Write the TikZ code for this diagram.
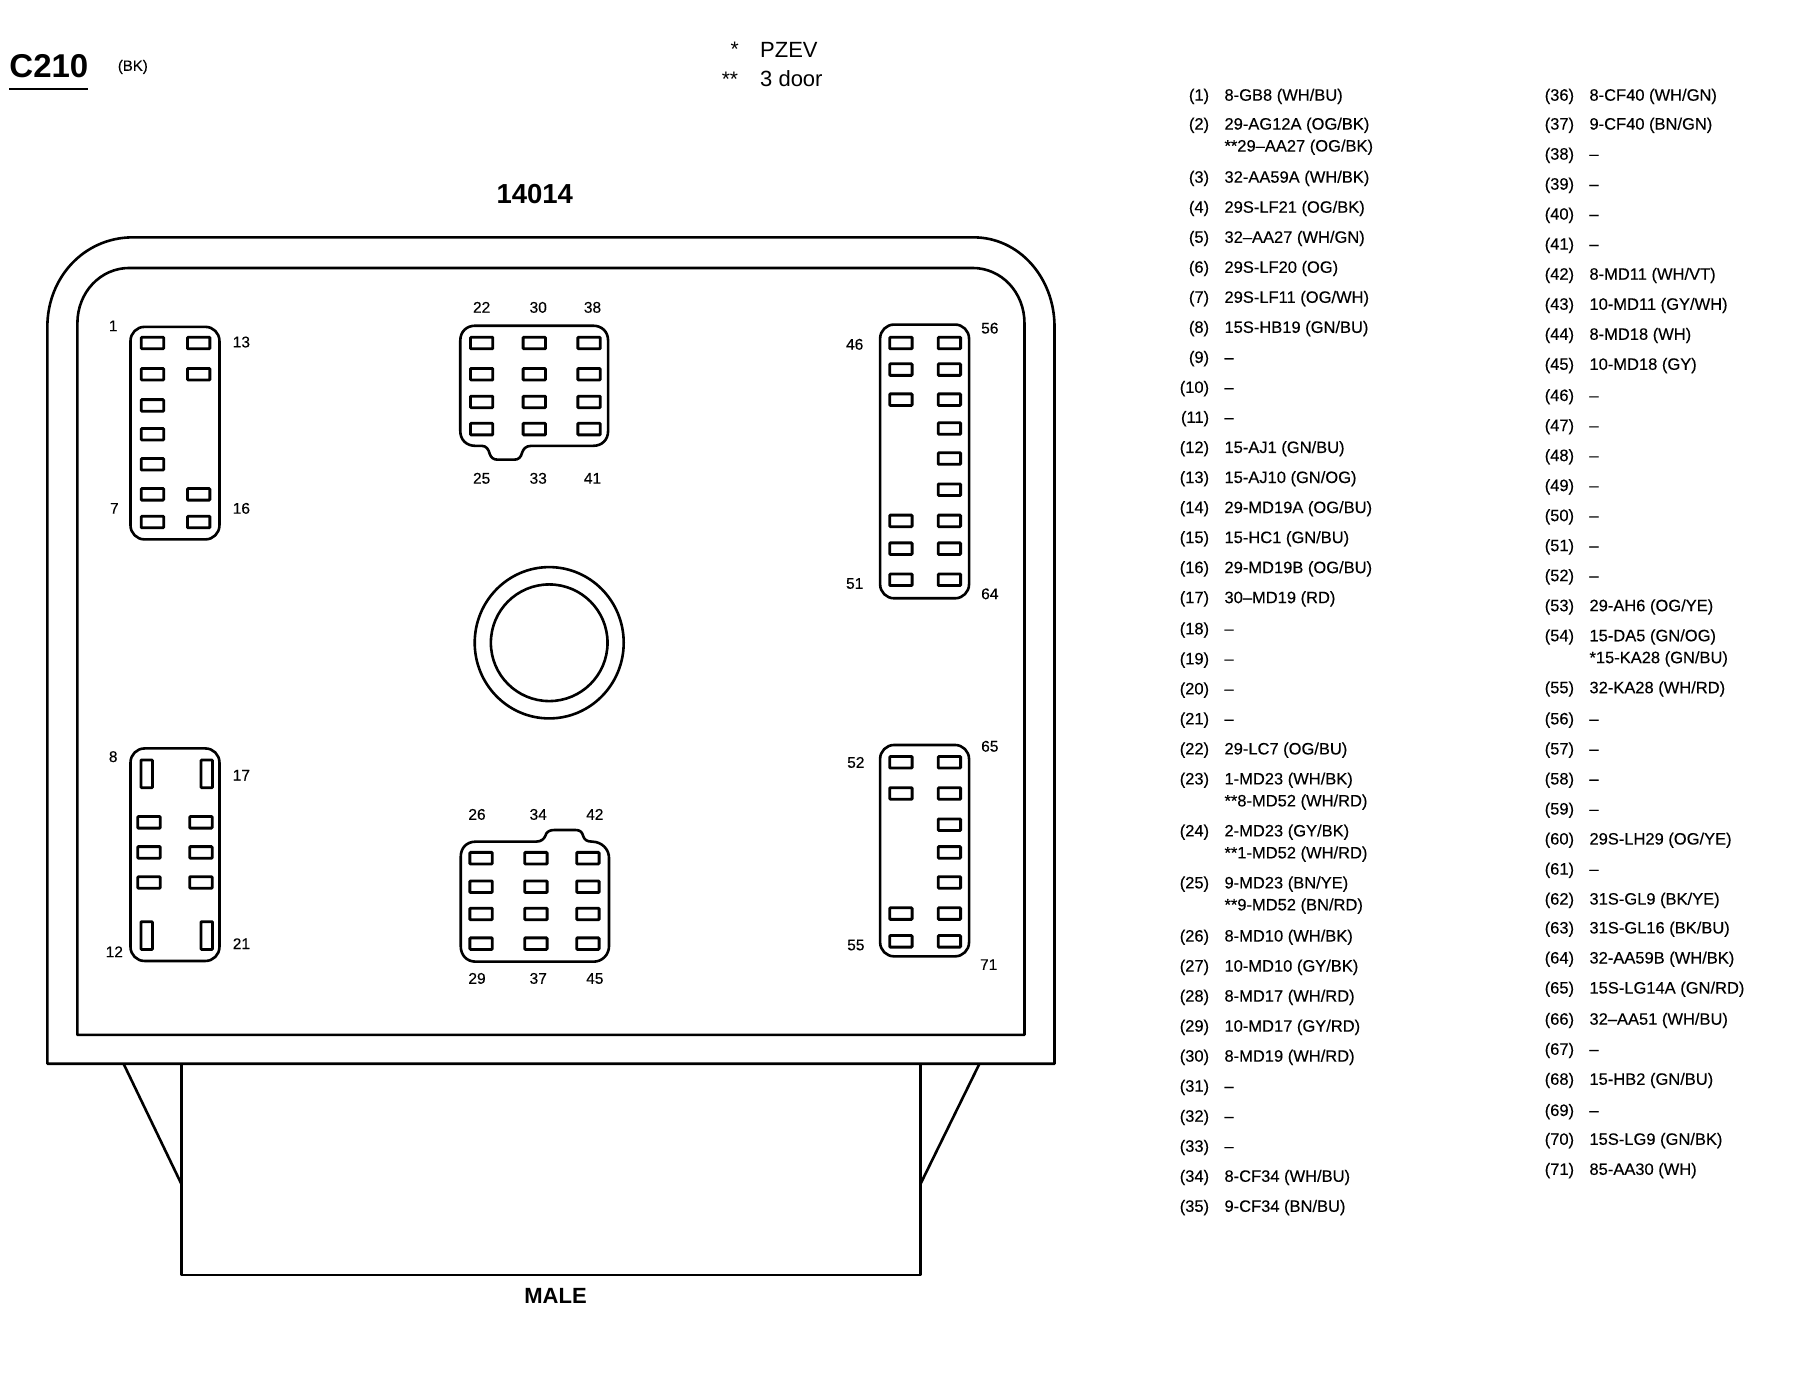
\documentclass[tikz,border=0pt]{standalone}
\usepackage{fontspec}
\setmainfont{Liberation Sans}
\newfontfamily\darkfont[FakeBold=0.25]{Liberation Sans}
\tikzset{
  body/.style={draw=black,line width=2.6pt,line join=round},
  conn/.style={draw=black,line width=2.6pt,rounded corners=14pt,line join=round},
  cav/.style={draw=black,line width=2.8pt,rounded corners=0.8pt},
  thin/.style={draw=black,line width=2pt},
  pin/.style={inner sep=0pt,font=\darkfont\fontsize{15.5}{15.5}\selectfont,text height=11pt,text depth=0pt},
  num/.style={inner sep=0pt,anchor=east,font=\darkfont\fontsize{16.5}{16.5}\selectfont,text height=12pt,text depth=0pt},
  wire/.style={inner sep=0pt,anchor=west,font=\darkfont\fontsize{16.5}{16.5}\selectfont,text height=12pt,text depth=0pt},
}
\newcommand\rowA[3]{\node[num] (n#1) at (1047,#2) {(#1)}; \node[wire] (w#1) at (1060,#2) {#3};}
\newcommand\rowB[3]{\node[num] (n#1) at (1363,#2) {(#1)}; \node[wire] (w#1) at (1376,#2) {#3};}
\newcommand\extraA[3]{\node[wire] (w#1b) at (1060,#2) {#3};}
\newcommand\extraB[3]{\node[wire] (w#1b) at (1376,#2) {#3};}
\newcommand\cavs[2]{\foreach \cx in {#1}{\foreach \cy in {#2}{\draw[cav] (\cx-9.7,\cy-5) rectangle (\cx+9.7,\cy+5);}}}
\newcommand\cavv[2]{\foreach \cx in {#1}{\foreach \cy in {#2}{\draw[cav] (\cx-5,\cy-12) rectangle (\cx+5,\cy+12);}}}
\newcommand\pinl[3]{\node[pin] (p#1) at (#2,#3) {#1};}
\begin{document}
\begin{tikzpicture}[x=1.155pt,y=-1.155pt]
\useasboundingbox (0,0) rectangle (1567.1,1191.3);
\fill[white] (0,0) rectangle (1567.1,1191.3);
% titles
\node[inner sep=0pt,anchor=west,font=\bfseries\fontsize{33}{33}\selectfont] (title) at (8,57) {C210};
\draw[thin] (8,77) -- (76,77);
\node[inner sep=0pt,font=\darkfont\fontsize{15}{15}\selectfont] (colour) at (115,58) {(BK)};
\node[inner sep=0pt,font=\fontsize{21}{21}\selectfont] (s1) at (636,43) {*};
\node[inner sep=0pt,font=\fontsize{21}{21}\selectfont] (s2) at (632,69) {**};
\node[inner sep=0pt,anchor=west,font=\fontsize{22}{22}\selectfont] (pzev) at (658,43) {PZEV};
\node[inner sep=0pt,anchor=west,font=\fontsize{22}{22}\selectfont] (door) at (658,68) {3 door};
\node[inner sep=0pt,font=\bfseries\fontsize{27.5}{27.5}\selectfont] (part) at (463,168) {14014};
\node[inner sep=0pt,font=\bfseries\fontsize{22}{22}\selectfont] (male) at (481,1122) {MALE};
% body
\draw[body] (41,921) -- (41,283) .. controls (41,240) and (73,205.5) .. (115,205.5) -- (843,205.5) .. controls (882,205.5) and (913,240) .. (913,283) -- (913,921) -- cycle;
\draw[body] (67,896) -- (67,280) .. controls (67,253) and (87,232) .. (112,232) -- (842,232) .. controls (867,232) and (887,253) .. (887,280) -- (887,896) -- cycle;
\draw[body] (157,921) -- (157,1104) -- (797,1104) -- (797,921);
\draw[body] (107,921) -- (157,1025);
\draw[body] (848,921) -- (797,1025);
% centre ring
\draw[body] (475.5,556.5) ellipse [x radius=64.5,y radius=65.5];
\draw[body] (475.5,556.5) ellipse [x radius=50.5,y radius=50.5];
% connector A
\draw[conn] (113,283) rectangle (190,467);
\cavs{132}{297,324,351,376,402,428,452}
\cavs{172}{297,324,428,452}
\pinl{1}{98}{282}\pinl{13}{209}{296}\pinl{7}{99}{440}\pinl{16}{209}{440}
% connector B
\draw[body] (398.5,295) .. controls (398.5,287) and (404,282) .. (411.5,282) -- (513.5,282) .. controls (521,282) and (526.5,287) .. (526.5,295) -- (526.5,373) .. controls (526.5,381) and (521,386) .. (513.5,386) -- (460,386) .. controls (455,386) and (453,389) .. (452,392) .. controls (451,396) and (449,398) .. (445,398) -- (431,398) .. controls (427,398) and (425,396) .. (424,393) .. controls (423,389) and (421,386) .. (417,386) -- (411.5,386) .. controls (404,386) and (398.5,381) .. (398.5,373) -- cycle;
\cavs{417,462.6,510}{297,324,348,371.5}
\pinl{22}{417}{266}\pinl{30}{466}{266}\pinl{38}{513}{266}
\pinl{25}{417}{414}\pinl{33}{466}{414}\pinl{41}{513}{414}
% connector C
\draw[conn] (762,281) rectangle (839,518);
\cavs{780}{297,320,346,451,475,502}
\cavs{822}{297,320,346,371,397,424,451,475,502}
\pinl{46}{740}{298}\pinl{56}{857}{284}\pinl{51}{740}{505}\pinl{64}{857}{514}
% connector D
\draw[conn] (113,648) rectangle (190,832);
\cavv{127,179}{670,810}
\cavs{129,174}{712,738,764}
\pinl{8}{98}{655}\pinl{17}{209}{671}\pinl{12}{99}{824}\pinl{21}{209}{817}
% connector E
\draw[body] (398.9,742) .. controls (398.9,734) and (404,728.7) .. (412,728.7) -- (464,728.7) .. controls (469,728.7) and (471,726) .. (472,724) .. controls (473,720) and (476,718.6) .. (480,718.6) -- (498,718.6) .. controls (502,718.6) and (504,720) .. (505,724) .. controls (506,727) and (508,728.7) .. (513,728.7) .. controls (521,729) and (527.3,735) .. (527.3,743) -- (527.3,819) .. controls (527.3,827) and (521,832.6) .. (514,832.6) -- (412,832.6) .. controls (404,832.6) and (398.9,827) .. (398.9,819) -- cycle;
\cavs{416.5,464,509}{743,767.7,791.3,817}
\pinl{26}{413}{705}\pinl{34}{466}{705}\pinl{42}{515}{705}
\pinl{29}{413}{847}\pinl{37}{466}{847}\pinl{45}{515}{847}
% connector F
\draw[conn] (762,645) rectangle (839,828);
\cavs{780}{660,687,791,815}
\cavs{822}{660,687,714,738,764,791,815}
\pinl{52}{741}{660}\pinl{65}{857}{646}\pinl{55}{741}{818}\pinl{71}{856}{835}
% wire table, left column
\rowA{1}{82}{8-GB8 (WH/BU)}
\rowA{2}{107}{29-AG12A (OG/BK)}\extraA{2}{126}{**29–AA27 (OG/BK)}
\rowA{3}{153}{32-AA59A (WH/BK)}
\rowA{4}{179}{29S-LF21 (OG/BK)}
\rowA{5}{205}{32–AA27 (WH/GN)}
\rowA{6}{231}{29S-LF20 (OG)}
\rowA{7}{257}{29S-LF11 (OG/WH)}
\rowA{8}{283}{15S-HB19 (GN/BU)}
\rowA{9}{309}{–}
\rowA{10}{335}{–}
\rowA{11}{361}{–}
\rowA{12}{387}{15-AJ1 (GN/BU)}
\rowA{13}{413}{15-AJ10 (GN/OG)}
\rowA{14}{439}{29-MD19A (OG/BU)}
\rowA{15}{465}{15-HC1 (GN/BU)}
\rowA{16}{491}{29-MD19B (OG/BU)}
\rowA{17}{517}{30–MD19 (RD)}
\rowA{18}{544}{–}
\rowA{19}{570}{–}
\rowA{20}{596}{–}
\rowA{21}{622}{–}
\rowA{22}{648}{29-LC7 (OG/BU)}
\rowA{23}{674}{1-MD23 (WH/BK)}\extraA{23}{693}{**8-MD52 (WH/RD)}
\rowA{24}{719}{2-MD23 (GY/BK)}\extraA{24}{738}{**1-MD52 (WH/RD)}
\rowA{25}{764}{9-MD23 (BN/YE)}\extraA{25}{783}{**9-MD52 (BN/RD)}
\rowA{26}{810}{8-MD10 (WH/BK)}
\rowA{27}{836}{10-MD10 (GY/BK)}
\rowA{28}{862}{8-MD17 (WH/RD)}
\rowA{29}{888}{10-MD17 (GY/RD)}
\rowA{30}{914}{8-MD19 (WH/RD)}
\rowA{31}{940}{–}
\rowA{32}{966}{–}
\rowA{33}{992}{–}
\rowA{34}{1018}{8-CF34 (WH/BU)}
\rowA{35}{1044}{9-CF34 (BN/BU)}
% wire table, right column
\rowB{36}{82}{8-CF40 (WH/GN)}
\rowB{37}{107}{9-CF40 (BN/GN)}
\rowB{38}{133}{–}
\rowB{39}{159}{–}
\rowB{40}{185}{–}
\rowB{41}{211}{–}
\rowB{42}{237}{8-MD11 (WH/VT)}
\rowB{43}{263}{10-MD11 (GY/WH)}
\rowB{44}{289}{8-MD18 (WH)}
\rowB{45}{315}{10-MD18 (GY)}
\rowB{46}{342}{–}
\rowB{47}{368}{–}
\rowB{48}{394}{–}
\rowB{49}{420}{–}
\rowB{50}{446}{–}
\rowB{51}{472}{–}
\rowB{52}{498}{–}
\rowB{53}{524}{29-AH6 (OG/YE)}
\rowB{54}{550}{15-DA5 (GN/OG)}\extraB{54}{569}{*15-KA28 (GN/BU)}
\rowB{55}{595}{32-KA28 (WH/RD)}
\rowB{56}{622}{–}
\rowB{57}{648}{–}
\rowB{58}{674}{–}
\rowB{59}{700}{–}
\rowB{60}{726}{29S-LH29 (OG/YE)}
\rowB{61}{752}{–}
\rowB{62}{778}{31S-GL9 (BK/YE)}
\rowB{63}{803}{31S-GL16 (BK/BU)}
\rowB{64}{829}{32-AA59B (WH/BK)}
\rowB{65}{855}{15S-LG14A (GN/RD)}
\rowB{66}{882}{32–AA51 (WH/BU)}
\rowB{67}{908}{–}
\rowB{68}{934}{15-HB2 (GN/BU)}
\rowB{69}{961}{–}
\rowB{70}{986}{15S-LG9 (GN/BK)}
\rowB{71}{1012}{85-AA30 (WH)}
\end{tikzpicture}
\end{document}
